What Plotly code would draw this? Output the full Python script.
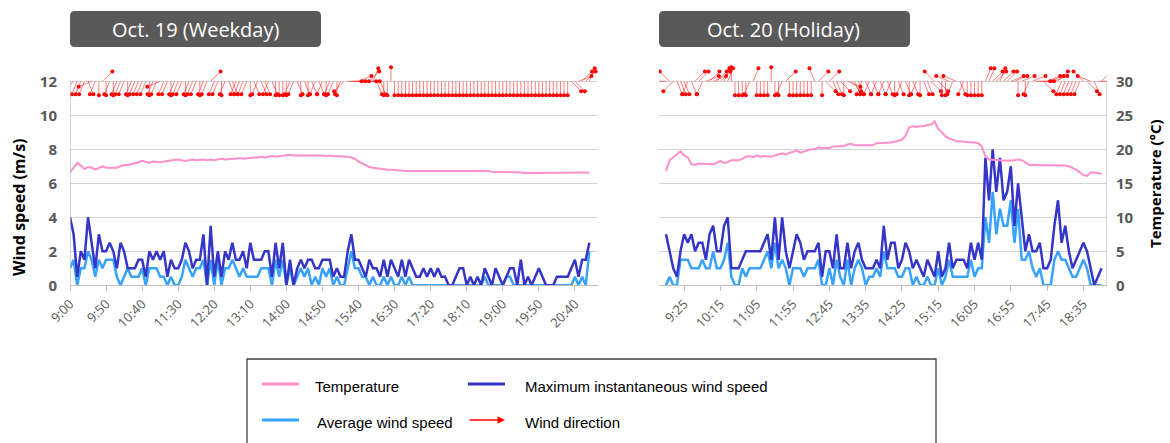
import math
import plotly.graph_objects as go

# ------------------------------------------------------------------ data
START_TIME = "9:00"
INTERVAL_MIN = 5

TICKS_19 = ["9:00", "9:50", "10:40", "11:30", "12:20", "13:10", "14:00", "14:50",
            "15:40", "16:30", "17:20", "18:10", "19:00", "19:50", "20:40"]
TICKS_20 = ["9:25", "10:15", "11:05", "11:55", "12:45", "13:35", "14:25", "15:15",
            "16:05", "16:55", "17:45", "18:35"]

# Oct. 19 (weekday), 9:00-21:00 every 5 min
WIND_MAX_19 = [
    4.0, 3.0, 0.5, 2.0, 1.5, 4.0, 2.5, 1.0, 3.0, 2.0,
    2.0, 2.5, 2.0, 1.0, 2.5, 2.0, 1.0, 1.0, 1.0, 1.5,
    1.5, 0.5, 2.0, 1.5, 2.0, 1.5, 2.0, 0.5, 1.5, 1.0,
    1.0, 1.5, 2.5, 2.0, 1.0, 1.5, 1.5, 3.0, 0.0, 3.5,
    0.5, 2.0, 0.5, 2.0, 1.5, 2.5, 1.5, 1.5, 2.0, 1.0,
    2.5, 1.5, 1.5, 1.5, 2.0, 2.0, 0.5, 2.5, 1.0, 2.5,
    0.0, 1.5, 0.0, 1.0, 1.5, 1.0, 1.5, 1.5, 1.0, 1.0,
    1.5, 1.5, 1.5, 0.5, 1.0, 0.5, 0.5, 2.0, 3.0, 1.5,
    1.5, 1.0, 0.5, 1.5, 1.0, 1.0, 0.5, 1.5, 0.5, 1.5,
    1.0, 0.5, 1.5, 0.5, 1.5, 1.0, 0.5, 0.5, 1.0, 0.5,
    1.0, 0.5, 1.0, 0.5, 0.5, 0.0, 0.0, 0.5, 1.0, 1.0,
    0.0, 0.5, 0.0, 0.5, 0.0, 1.0, 0.5, 0.0, 1.0, 0.5,
    0.0, 0.5, 1.0, 1.0, 0.0, 1.5, 0.0, 0.5, 0.0, 0.5,
    1.0, 0.5, 0.0, 0.0, 0.0, 0.5, 0.5, 0.5, 0.5, 1.0,
    1.5, 0.5, 1.5, 1.5, 2.5,
]
WIND_AVG_19 = [
    1.0, 1.5, 0.0, 1.0, 1.0, 2.0, 1.5, 0.5, 1.5, 1.0,
    1.5, 1.5, 1.5, 0.5, 0.0, 0.5, 1.0, 0.5, 0.5, 0.5,
    1.0, 0.0, 1.0, 1.0, 1.0, 0.5, 0.5, 0.0, 0.5, 0.0,
    0.0, 0.5, 1.5, 1.0, 0.5, 1.0, 1.0, 1.5, 0.0, 1.5,
    0.0, 1.5, 0.0, 1.0, 1.0, 1.5, 1.0, 0.5, 1.0, 0.5,
    0.5, 0.5, 0.5, 1.0, 1.0, 1.0, 0.0, 1.5, 0.5, 1.5,
    0.0, 1.0, 0.0, 0.5, 1.0, 0.5, 1.0, 0.0, 0.5, 0.0,
    1.0, 0.5, 1.0, 0.0, 0.5, 0.0, 0.0, 1.0, 2.0, 1.0,
    1.0, 0.5, 0.5, 0.0, 0.5, 0.0, 0.0, 0.5, 0.0, 0.5,
    0.0, 0.0, 0.5, 0.0, 0.5, 0.0, 0.0, 0.0, 0.0, 0.0,
    0.0, 0.0, 0.0, 0.0, 0.0, 0.0, 0.0, 0.0, 0.0, 0.0,
    0.0, 0.0, 0.0, 0.0, 0.0, 0.5, 0.0, 0.0, 0.0, 0.0,
    0.0, 0.5, 0.5, 0.0, 0.0, 0.0, 0.0, 0.0, 0.0, 0.0,
    0.0, 0.0, 0.0, 0.0, 0.0, 0.0, 0.0, 0.0, 0.0, 0.0,
    0.5, 0.0, 0.5, 0.0, 2.0,
]
TEMP_19 = [
    16.6, 17.4, 18.0, 17.6, 17.1, 17.4, 17.3, 17.0, 17.3, 17.5,
    17.3, 17.3, 17.4, 17.3, 17.5, 17.7, 17.7, 17.8, 17.9, 18.1,
    18.3, 18.1, 18.0, 18.2, 18.1, 18.1, 18.2, 18.3, 18.4, 18.4,
    18.5, 18.4, 18.3, 18.4, 18.5, 18.4, 18.5, 18.5, 18.4, 18.5,
    18.4, 18.5, 18.6, 18.5, 18.6, 18.6, 18.6, 18.7, 18.6, 18.7,
    18.7, 18.8, 18.8, 18.9, 18.8, 18.9, 19.0, 18.9, 19.0, 19.1,
    19.2, 19.2, 19.1, 19.1, 19.1, 19.2, 19.2, 19.1, 19.2, 19.2,
    19.1, 19.0, 19.1, 19.0, 19.0, 19.0, 18.9, 18.9, 18.8, 18.6,
    18.2, 17.9, 17.6, 17.4, 17.3, 17.2, 17.1, 17.1, 17.0, 17.0,
    17.0, 16.9, 16.9, 16.8, 16.8, 16.8, 16.8, 16.8, 16.8, 16.8,
    16.8, 16.8, 16.8, 16.8, 16.8, 16.8, 16.8, 16.8, 16.9, 16.9,
    16.9, 16.9, 16.8, 16.8, 16.8, 16.8, 16.8, 16.7, 16.7, 16.7,
    16.7, 16.7, 16.6, 16.6, 16.6, 16.6, 16.5, 16.5, 16.6, 16.6,
    16.6, 16.6, 16.5, 16.5, 16.6, 16.6, 16.6, 16.6, 16.6, 16.5,
    16.6, 16.6, 16.6, 16.5, 16.6,
]
WDIR_19 = [
    "NNE", "NE", "NNE", "NNE", "NNE", "NNW", "ENE", "NNE", "N", "SW",
    "N", "NNE", "N", "NNE", "NNE", "NNE", "N", "NNE", "NNE", "NNE",
    "NNE", "NNE", "N", "NNE", "NNE", "ENE", "NNE", "NNE", "N", "NNE",
    "NNE", "NNE", "N", "NNE", "NNE", "NNE", "N", "NNE", "NNE", "SW",
    "NNE", "NNE", "N", "NNE", "NNW", "NNW", "NNE", "NNE", "NNE", "NNE",
    "N", "NNW", "NNE", "NNW", "NNW", "NNE", "NNW", "N", "N", "N",
    "N", "NNE", "NNE", "NNW", "N", "NNW", "N", "NNW", "NNE", "NNW",
    "NNE", "N", "NNE", "NNE", "N", "NNE", "NE", "W", "W", "W",
    "WSW", "W", "W", "SW", "SSW", "NNW", "NNW", "N", "N", "S",
    "N", "N", "N", "N", "N", "N", "N", "N", "N", "N",
    "N", "N", "N", "N", "N", "N", "N", "N", "N", "N",
    "N", "N", "N", "N", "N", "N", "N", "N", "N", "N",
    "N", "N", "N", "N", "N", "N", "N", "N", "N", "N",
    "N", "N", "N", "N", "N", "N", "N", "N", "N", "NW",
    "NW", "WSW", "SW", "SW", "SSW",
]

# Oct. 20 (holiday), 9:00-19:00 every 5 min
WIND_MAX_20 = [
    3.0, 2.0, 1.0, 0.5, 2.0, 3.0, 2.5, 3.0, 2.0, 2.5,
    2.5, 1.5, 3.0, 3.5, 2.0, 2.0, 3.5, 4.0, 1.0, 1.0,
    1.0, 1.5, 2.0, 2.0, 2.0, 2.0, 2.0, 2.5, 3.0, 1.5,
    4.0, 1.5, 4.0, 2.0, 1.0, 2.0, 3.0, 2.5, 1.5, 2.0,
    2.0, 2.0, 2.5, 0.5, 2.0, 2.0, 1.0, 3.0, 1.0, 1.0,
    2.5, 1.0, 2.0, 2.5, 1.5, 1.0, 1.0, 1.0, 1.5, 1.0,
    3.5, 1.5, 2.5, 2.5, 1.0, 1.5, 2.5, 2.0, 1.0, 1.5,
    1.0, 0.5, 1.5, 1.0, 0.5, 2.0, 0.5, 1.0, 2.5, 1.0,
    1.5, 1.5, 1.5, 1.0, 2.5, 1.5, 2.5, 1.5, 7.5, 5.0,
    8.0, 5.5, 7.5, 5.0, 5.5, 7.0, 3.5, 6.0, 4.0, 2.0,
    3.0, 2.0, 2.0, 2.5, 1.0, 1.0, 1.5, 3.5, 5.0, 2.5,
    3.5, 2.0, 1.0, 1.5, 2.0, 2.5, 2.0, 1.0, 0.0, 0.5,
    1.0,
]
WIND_AVG_20 = [
    0.0, 0.5, 0.0, 0.0, 1.5, 1.5, 1.5, 1.0, 1.0, 1.0,
    1.5, 1.0, 1.0, 2.0, 1.0, 1.0, 1.5, 2.5, 0.5, 0.0,
    0.0, 1.0, 0.5, 1.0, 1.0, 1.0, 1.0, 1.5, 2.0, 1.0,
    2.5, 1.0, 1.5, 1.0, 0.0, 1.0, 1.0, 1.0, 0.5, 1.0,
    1.0, 1.0, 1.5, 0.0, 0.0, 1.0, 0.0, 1.5, 0.5, 0.0,
    1.5, 0.0, 1.0, 1.5, 1.0, 0.0, 0.5, 0.5, 1.0, 0.5,
    2.0, 1.0, 1.0, 1.0, 0.5, 0.5, 1.0, 1.0, 0.0, 0.5,
    0.0, 0.0, 0.5, 0.0, 0.0, 1.0, 0.0, 0.5, 1.5, 0.5,
    0.5, 0.5, 0.5, 0.5, 1.5, 0.5, 1.0, 1.0, 4.0, 2.5,
    5.5, 3.0, 4.5, 3.5, 3.5, 5.0, 2.5, 4.5, 1.5, 1.5,
    2.0, 1.0, 0.5, 1.0, 0.0, 0.0, 0.0, 1.5, 2.0, 1.5,
    1.5, 1.0, 0.5, 0.5, 1.0, 1.5, 1.0, 0.0, 0.0, 0.0,
    0.0,
]
TEMP_20 = [
    16.8, 18.4, 18.8, 19.3, 19.7, 19.1, 18.8, 17.8, 17.7, 17.9,
    17.9, 17.8, 17.8, 17.8, 18.0, 18.3, 18.0, 18.1, 18.4, 18.4,
    18.4, 18.6, 18.9, 19.0, 18.8, 19.1, 18.9, 19.0, 19.0, 18.9,
    19.1, 19.2, 19.4, 19.2, 19.5, 19.6, 19.8, 19.5, 19.7, 19.9,
    20.0, 20.0, 20.3, 20.2, 20.2, 20.2, 20.4, 20.4, 20.5, 20.5,
    20.7, 20.8, 20.6, 20.6, 20.5, 20.6, 20.6, 20.6, 20.9, 20.9,
    21.0, 21.0, 21.0, 21.1, 21.2, 21.4, 22.0, 23.2, 23.4, 23.3,
    23.4, 23.4, 23.6, 23.6, 24.1, 23.0, 22.5, 21.9, 21.6, 21.4,
    21.2, 21.2, 21.1, 21.1, 21.0, 21.0, 20.9, 20.4, 19.0, 18.5,
    18.5, 18.4, 18.4, 18.3, 18.3, 18.4, 18.4, 18.5, 18.4, 18.1,
    17.7, 17.7, 17.7, 17.7, 17.7, 17.7, 17.7, 17.7, 17.7, 17.6,
    17.6, 17.5, 17.3, 17.0, 16.6, 16.2, 16.1, 16.6, 16.6, 16.5,
    16.4,
]
WDIR_20 = [
    "E", "SE", "NE", "NNW", "NNW", "NNW", "NNE", "NNW", "SW", "SW",
    "NNE", "WSW", "SW", "WSW", "SW", "SW", "SSW", "SSW", "S", "N",
    "N", "N", "N", "NNE", "SSW", "N", "N", "N", "N", "S",
    "N", "N", "NNE", "SW", "N", "N", "N", "N", "N", "N",
    "N", "SSE", "SW", "N", "NW", "SW", "NNW", "NNW", "NW", "N",
    "WNW", "NW", "NNW", "NNW", "NNE", "NNW", "NNE", "NNW", "NNE", "NNW",
    "NNE", "NNW", "NNE", "N", "NNW", "NNE", "NNW", "N", "NNW", "NNE",
    "N", "NNW", "NNW", "NW", "SE", "NW", "N", "N", "ESE", "NNE",
    "ESE", "NNW", "NNE", "N", "N", "N", "N", "N", "SSW", "SSW",
    "SW", "SW", "SSW", "SW", "SW", "WSW", "WSW", "N", "WSW", "N",
    "NNE", "WSW", "W", "W", "NW", "WSW", "WSW", "WSW", "SW", "NNE",
    "NNE", "NNE", "NNE", "NNE", "NNE", "SE", "NW", "ESE", "NNW", "W",
    "SW",
]

COMPASS = {"N": 0, "NNE": 22.5, "NE": 45, "ENE": 67.5, "E": 90, "ESE": 112.5,
           "SE": 135, "SSE": 157.5, "S": 180, "SSW": 202.5, "SW": 225,
           "WSW": 247.5, "W": 270, "WNW": 292.5, "NW": 315, "NNW": 337.5}

# ------------------------------------------------------------------ layout constants
W, H = 1170, 443
L_PX = (70, 598)
R_PX = (659, 1107)
Y_ZERO_PX = 285.3
PX_PER_WIND = 17.0
WIND_RANGE = [0, 13.2]
TEMP_RANGE = [0, 33]
L_XRANGE = [0, 146.4]
R_XRANGE = [-1.93, 121.5]
ARROW_BASE = 12
ARROW_PX = 14

PINK = "#FF8FCB"
NAVY = "#3535C8"
LBLUE = "#38A2FF"
RED = "#FF0000"
GRID = "#D4D4D4"
AXIS = "#BFBFBF"
TXT = "#595959"

y_dom = [1 - Y_ZERO_PX / H, 1 - (Y_ZERO_PX - WIND_RANGE[1] * PX_PER_WIND) / H]


def px2paper(x, y):
    return x / W, 1 - y / H


def tick_index(label):
    h, m = map(int, label.split(":"))
    h0, m0 = map(int, START_TIME.split(":"))
    return ((h * 60 + m) - (h0 * 60 + m0)) / INTERVAL_MIN


def arrows(dirs, px_per_step):
    lx, ly, tx, ty = [], [], [], []
    for i, d in enumerate(dirs):
        if not d:
            continue
        th = math.radians(COMPASS[d] + 180)
        xe = i + ARROW_PX * math.sin(th) / px_per_step
        ye = ARROW_BASE + ARROW_PX * math.cos(th) / PX_PER_WIND
        lx += [i, xe, None]
        ly += [ARROW_BASE, ye, None]
        tx.append(xe)
        ty.append(ye)
    return lx, ly, tx, ty


fig = go.Figure()


def add_panel(xa, ya_wind, ya_temp, wmax, wavg, temp, wdir, px_per_step):
    lx, ly, tx, ty = arrows(wdir, px_per_step)
    fig.add_trace(go.Scatter(x=lx, y=ly, mode="lines", xaxis=xa, yaxis=ya_wind,
                             line=dict(color="rgba(255,40,40,0.6)", width=1),
                             showlegend=False, hoverinfo="skip"))
    fig.add_trace(go.Scatter(x=tx, y=ty, mode="markers", xaxis=xa, yaxis=ya_wind,
                             marker=dict(color=RED, size=4), showlegend=False,
                             hoverinfo="skip"))
    idx = list(range(len(wavg)))
    fig.add_trace(go.Scatter(x=idx, y=wavg, mode="lines", xaxis=xa, yaxis=ya_wind,
                             line=dict(color=LBLUE, width=2.5), showlegend=False))
    idx = list(range(len(wmax)))
    fig.add_trace(go.Scatter(x=idx, y=wmax, mode="lines", xaxis=xa, yaxis=ya_wind,
                             line=dict(color=NAVY, width=2.5), showlegend=False))
    idx = list(range(len(temp)))
    fig.add_trace(go.Scatter(x=idx, y=temp, mode="lines", xaxis=xa, yaxis=ya_temp,
                             line=dict(color=PINK, width=2), showlegend=False))


pps_l = (L_PX[1] - L_PX[0]) / (L_XRANGE[1] - L_XRANGE[0])
pps_r = (R_PX[1] - R_PX[0]) / (R_XRANGE[1] - R_XRANGE[0])
add_panel("x", "y", "y2", WIND_MAX_19, WIND_AVG_19, TEMP_19, WDIR_19, pps_l)
add_panel("x2", "y3", "y4", WIND_MAX_20, WIND_AVG_20, TEMP_20, WDIR_20, pps_r)

xaxis_common = dict(showgrid=False, zeroline=False, showline=True, linecolor=AXIS,
                    linewidth=1, ticks="outside", ticklen=5, tickcolor=AXIS,
                    tickangle=-45, automargin=False,
                    tickfont=dict(family="Open Sans", size=13, color=TXT))
ytick_font = dict(family="Open Sans", size=15, color=TXT, weight="bold")

fig.update_layout(
    width=W, height=H, autosize=False,
    margin=dict(l=0, r=0, t=0, b=0, pad=0, autoexpand=False),
    paper_bgcolor="white", plot_bgcolor="white",
    showlegend=False,
    xaxis=dict(domain=[L_PX[0] / W, L_PX[1] / W], range=L_XRANGE, anchor="y",
               tickvals=[tick_index(t) for t in TICKS_19], ticktext=TICKS_19,
               **xaxis_common),
    yaxis=dict(domain=y_dom, range=WIND_RANGE, anchor="x", automargin=False,
               tickvals=list(range(0, 13, 2)), showgrid=True, gridcolor=GRID,
               gridwidth=1.3, zeroline=False, showline=False,
               tickfont=ytick_font, ticklabelstandoff=12),
    yaxis2=dict(domain=y_dom, range=TEMP_RANGE, overlaying="y", anchor="x",
                side="right", visible=False, automargin=False),
    xaxis2=dict(domain=[R_PX[0] / W, R_PX[1] / W], range=R_XRANGE, anchor="y3",
                tickvals=[tick_index(t) for t in TICKS_20], ticktext=TICKS_20,
                **xaxis_common),
    yaxis3=dict(domain=y_dom, range=WIND_RANGE, anchor="x2", visible=False,
                automargin=False),
    yaxis4=dict(domain=y_dom, range=TEMP_RANGE, overlaying="y3", anchor="x2",
                side="right", tickvals=list(range(0, 31, 5)), showgrid=True,
                gridcolor=GRID, gridwidth=1.3, zeroline=False, showline=False,
                automargin=False, tickfont=ytick_font, ticklabelstandoff=8),
)

shapes = []
# vertical axis lines (0..12 / 0..30 only)
shapes.append(dict(type="line", xref="x", yref="y", x0=L_XRANGE[0], x1=L_XRANGE[0],
                   y0=0, y1=12, line=dict(color=AXIS, width=1.2)))
shapes.append(dict(type="line", xref="x2", yref="y3", x0=R_XRANGE[1], x1=R_XRANGE[1],
                   y0=0, y1=12, line=dict(color=AXIS, width=1.2)))


def rounded_box(x0, y0, x1, y1, r, color):
    def p(x, y):
        a, b = px2paper(x, y)
        return f"{a:.5f},{b:.5f}"
    path = (f"M {p(x0 + r, y0)} L {p(x1 - r, y0)} Q {p(x1, y0)} {p(x1, y0 + r)} "
            f"L {p(x1, y1 - r)} Q {p(x1, y1)} {p(x1 - r, y1)} L {p(x0 + r, y1)} "
            f"Q {p(x0, y1)} {p(x0, y1 - r)} L {p(x0, y0 + r)} Q {p(x0, y0)} {p(x0 + r, y0)} Z")
    return dict(type="path", xref="paper", yref="paper", path=path,
                fillcolor=color, line=dict(width=0))


shapes.append(rounded_box(70, 11, 321, 47, 5, "#595959"))
shapes.append(rounded_box(659, 11, 910, 47, 5, "#595959"))

# legend frame and samples
lx0, ly0 = px2paper(247, 359)
lx1, ly1 = px2paper(936, 460)
shapes.append(dict(type="rect", xref="paper", yref="paper", x0=lx0, x1=lx1,
                   y0=ly1, y1=ly0, line=dict(color="#404040", width=1.3)))


def sample(x0, x1, y, color):
    a0, b = px2paper(x0, y)
    a1, _ = px2paper(x1, y)
    return dict(type="line", xref="paper", yref="paper", x0=a0, x1=a1, y0=b, y1=b,
                line=dict(color=color, width=3))


shapes.append(sample(262, 299, 384, PINK))
shapes.append(sample(468, 505, 384, NAVY))
shapes.append(sample(262, 299, 420, LBLUE))

annotations = []


def text(x, y, s, size, color, xanchor="left", bold=False, family="Open Sans", angle=0):
    a, b = px2paper(x, y)
    annotations.append(dict(x=a, y=b, xref="paper", yref="paper", text=s,
                            showarrow=False, xanchor=xanchor, yanchor="middle",
                            textangle=angle,
                            font=dict(family=family, size=size, color=color,
                                      weight="bold" if bold else "normal")))


text(195, 29, "Oct. 19 (Weekday)", 20, "white", xanchor="center")
text(784, 29, "Oct. 20 (Holiday)", 20, "white", xanchor="center")
text(19, 207, "Wind speed (m/s)", 16, "black", xanchor="center", bold=True, angle=-90)
text(1155, 184, "Temperature (°C)", 15, "black", xanchor="center", bold=True, angle=-90)

LEG_FONT = "Liberation Sans"
text(313, 386, "Temperature", 15, "black", family=LEG_FONT)
text(523, 386, "Maximum instantaneous wind speed", 15, "black", family=LEG_FONT)
text(315, 422, "Average wind speed", 15, "black", family=LEG_FONT)
text(523, 422, "Wind direction", 15, "black", family=LEG_FONT)

ax_, ay_ = px2paper(505, 420)
annotations.append(dict(x=ax_, y=ay_, xref="paper", yref="paper", text="",
                        showarrow=True, ax=-37, ay=0, arrowhead=2, arrowsize=1,
                        arrowwidth=1.5, arrowcolor=RED))

fig.update_layout(shapes=shapes, annotations=annotations)
fig.write_html("out.html")
